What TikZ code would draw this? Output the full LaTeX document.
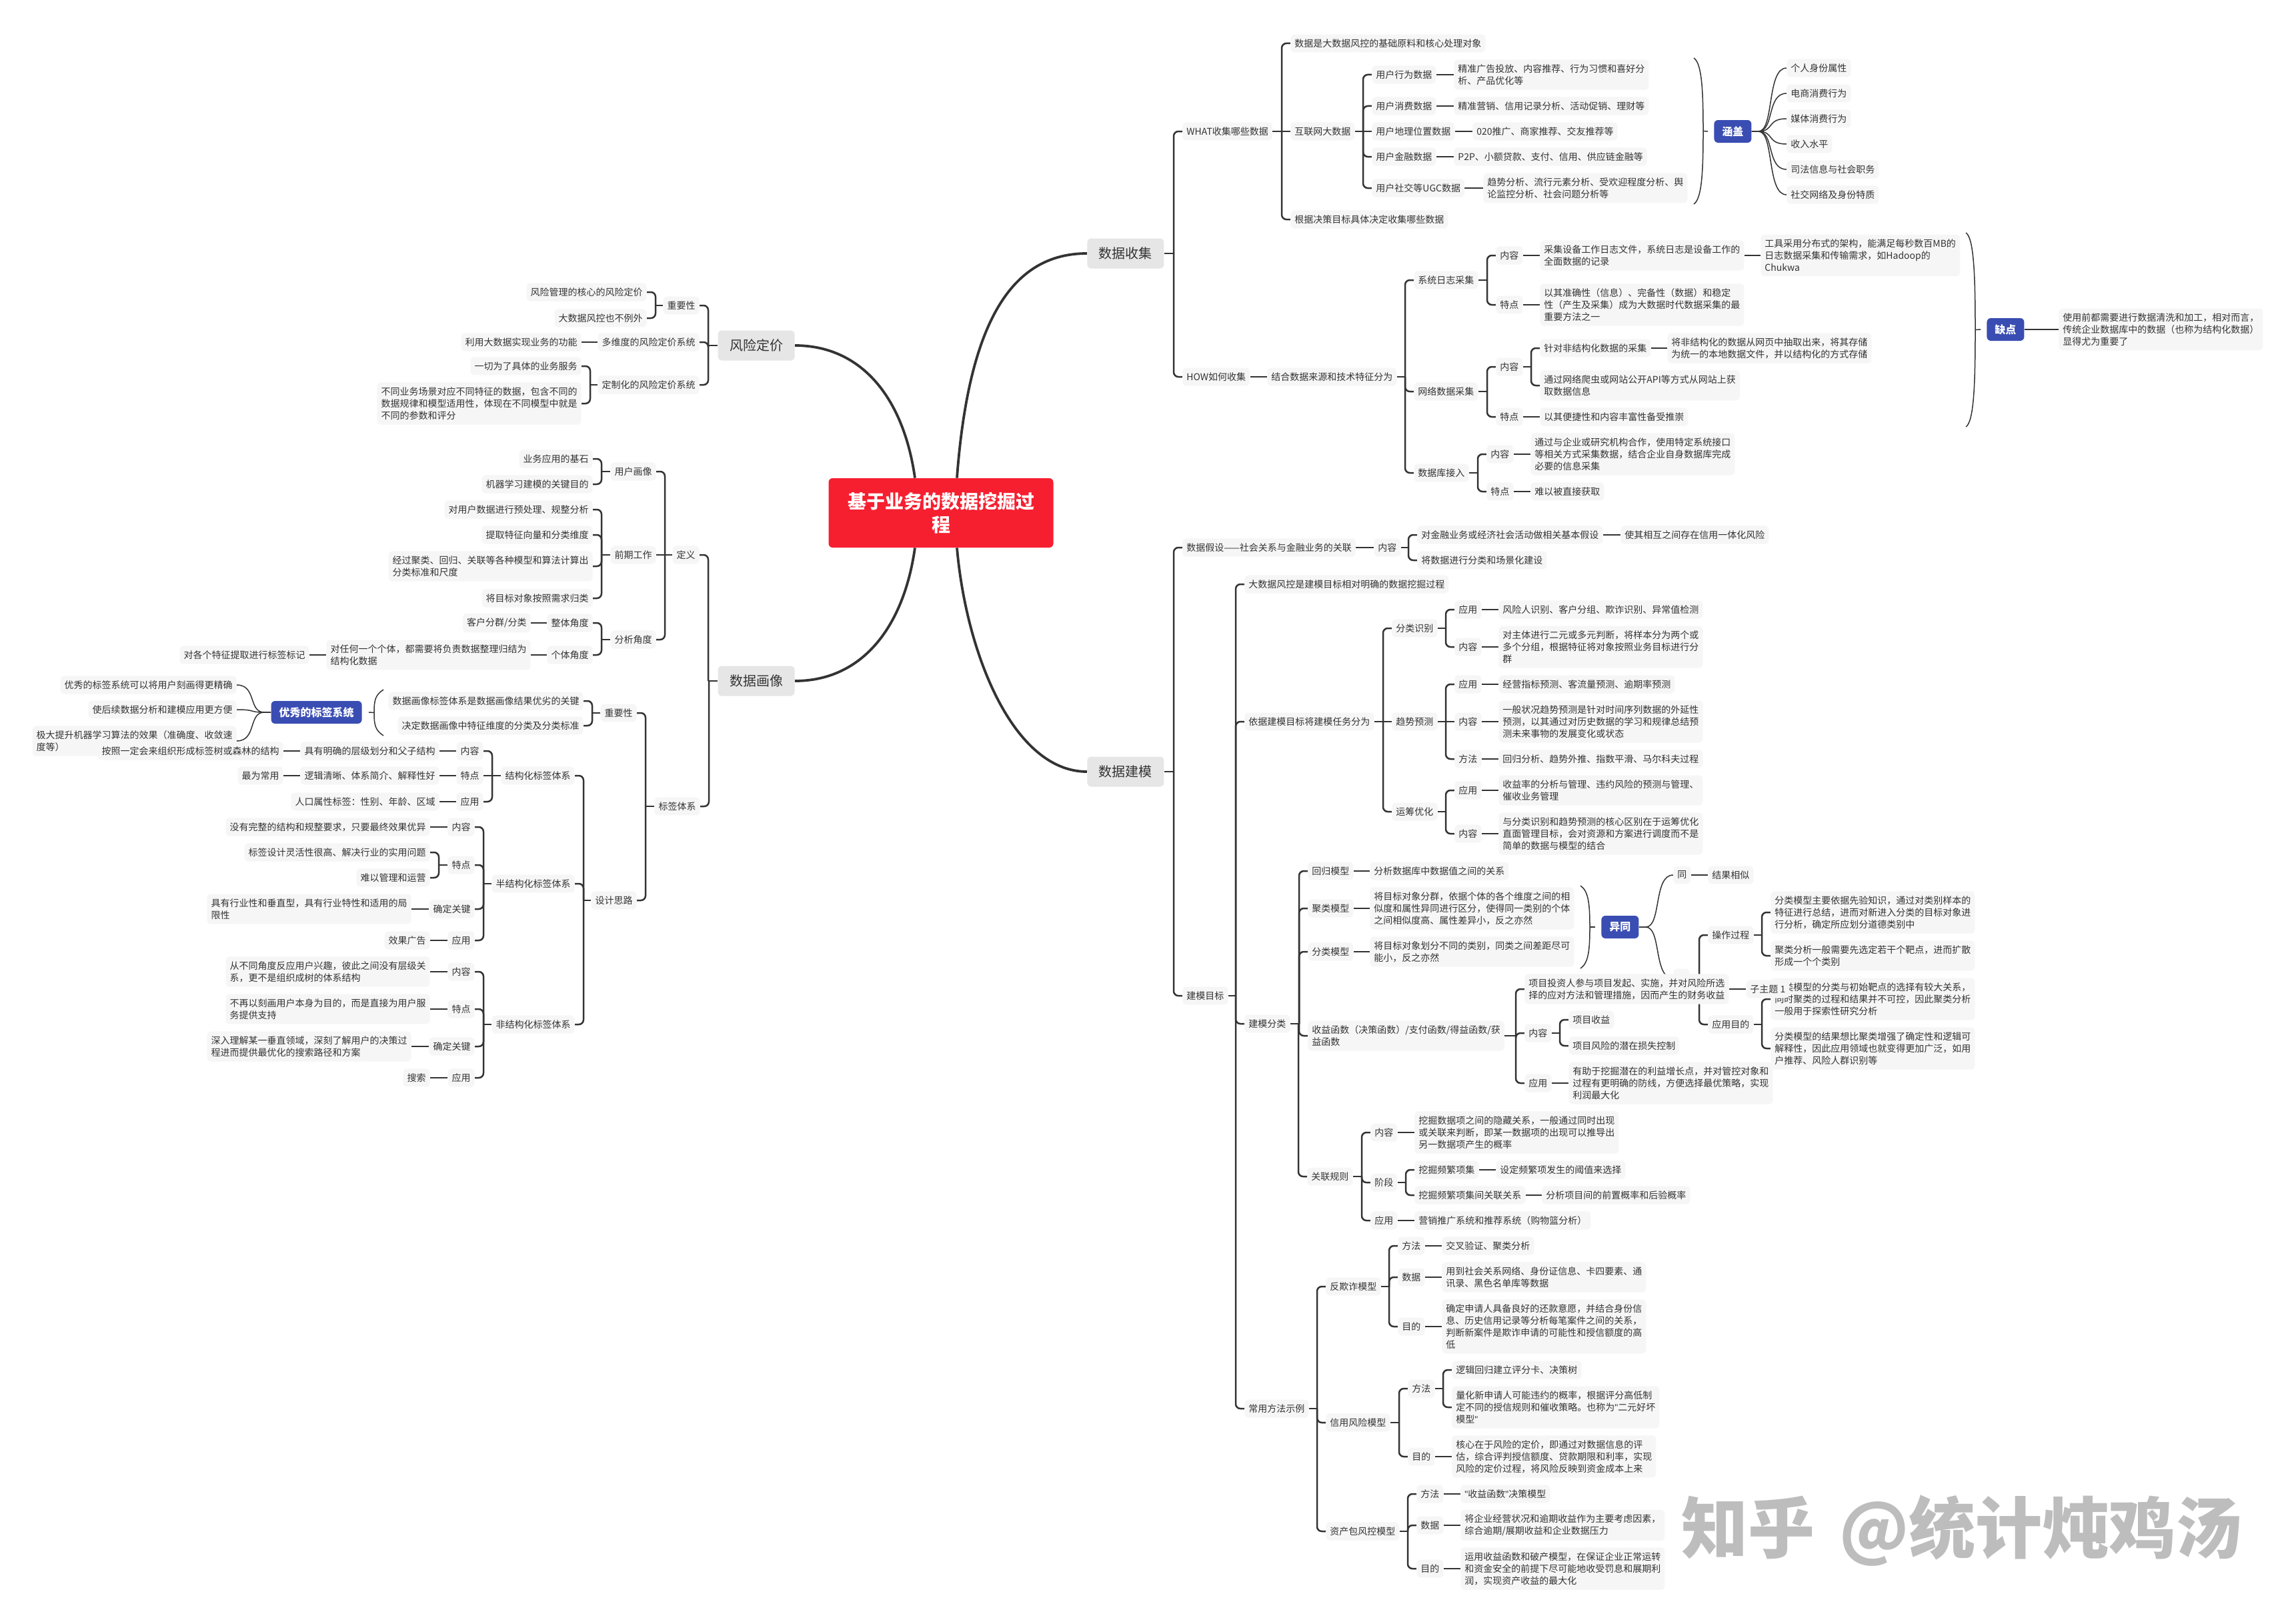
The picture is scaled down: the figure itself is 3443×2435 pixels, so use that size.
\documentclass[tikz,border=0pt]{standalone}
\usepackage{fontspec}
\setmainfont{Noto Sans CJK SC}
\newfontfamily\quotefont{Liberation Sans}
\usetikzlibrary{calc}
\definecolor{ink}{HTML}{333333}
\definecolor{boxfill}{HTML}{F6F6F6}
\definecolor{mainfill}{HTML}{E6E6E6}
\definecolor{tagblue}{HTML}{3A4DB3}
\definecolor{rootred}{HTML}{F61F30}
\definecolor{wmgray}{HTML}{BDBDBD}
\pgfdeclarelayer{paperlayer}
\pgfdeclarelayer{linklayer}
\pgfsetlayers{paperlayer,linklayer,main}
\tikzset{
  box/.style={fill=boxfill,rounded corners=3pt,text=ink,align=left,inner xsep=3pt,inner ysep=3.5pt,
    font=\fontsize{7pt}{9pt}\selectfont},
  mainbox/.style={fill=mainfill,inner xsep=8.75pt,inner ysep=0pt,minimum height=22.5pt,
    font=\fontsize{10pt}{12pt}\selectfont},
  tagbox/.style={fill=tagblue,text=white,inner xsep=6pt,inner ysep=0pt,minimum height=17pt,
    font=\fontsize{8pt}{10pt}\selectfont\bfseries},
  rootbox/.style={fill=rootred,text=white,rounded corners=3pt,align=center,minimum width=168.5pt,minimum height=52pt,
    inner sep=0pt,font=\fontsize{14pt}{17.5pt}\selectfont\bfseries},
  link/.style={draw=ink,line width=1.25pt},
  midlink/.style={draw=ink,line width=1pt},
  thinlink/.style={draw=ink,line width=0.75pt},
  mainlink/.style={draw=ink,line width=1.9pt},
}
\newcommand\nodeR[5][]{\node[box,anchor=west,#1] (#2) at (#3,#4) {#5};}
\newcommand\nodeL[5][]{\node[box,anchor=east,#1] (#2) at (#3,#4) {#5};}
% parent to children; a child level with its parent gets a plain straight line
\newcommand\linkR[2]{\foreach \kid in {#2}{%
  \pgfpointdiff{\pgfpointanchor{#1}{east}}{\pgfpointanchor{\kid}{west}}\pgfgetlastxy{\dxk}{\dyk}%
  \pgfmathparse{abs(\dyk)}%
  \ifdim\pgfmathresult pt<0.3pt
    \draw[link] (#1.east) -- (\kid.west);
  \else
    \path (\kid.west |- #1.east) ++(-13,0) coordinate (bend);
    \draw[link] (#1.east) -- (bend);
    \draw[link,rounded corners=3.5pt] (bend) |- (\kid.west);
  \fi}}
\newcommand\linkL[2]{\foreach \kid in {#2}{%
  \pgfpointdiff{\pgfpointanchor{#1}{west}}{\pgfpointanchor{\kid}{east}}\pgfgetlastxy{\dxk}{\dyk}%
  \pgfmathparse{abs(\dyk)}%
  \ifdim\pgfmathresult pt<0.3pt
    \draw[link] (#1.west) -- (\kid.east);
  \else
    \path (\kid.east |- #1.west) ++(13,0) coordinate (bend);
    \draw[link] (#1.west) -- (bend);
    \draw[link,rounded corners=3.5pt] (bend) |- (\kid.east);
  \fi}}
\newcommand\curveR[2]{\foreach \kid in {#2}{%
  \draw[thinlink] (#1.east) -- ++(10,0) .. controls +(24,0) and +(-30,0) .. (\kid.west);}}
\newcommand\curveL[2]{\foreach \kid in {#2}{%
  \draw[thinlink] (#1.west) -- ++(-10,0) .. controls +(-24,0) and +(30,0) .. (\kid.east);}}
% brace with its tips at x=#2 opening towards the left, tag on its right
\newcommand\braceR[4]{\pgfmathsetmacro\ymid{(#3+#4)/2}\pgfmathsetmacro\ya{#3+(#4-#3)*0.22}\pgfmathsetmacro\yb{#4-(#4-#3)*0.22}%
  \draw[thinlink] (#2,#3) .. controls ({#2+12},{#3+8}) and ({#2+14},\ya) .. ({#2+14},\ymid)
    .. controls ({#2+14},\yb) and ({#2+12},{#4-8}) .. (#2,#4);
  \draw[thinlink] ({#2+14},\ymid) -- ($(#1.west)+(-9,0)$);}
% brace with its tips at x=#2 opening towards the right, tag on its left
\newcommand\braceL[4]{\pgfmathsetmacro\ymid{(#3+#4)/2}\pgfmathsetmacro\ya{#3+(#4-#3)*0.22}\pgfmathsetmacro\yb{#4-(#4-#3)*0.22}%
  \draw[thinlink] (#2,#3) .. controls ({#2-12},{#3+8}) and ({#2-14},\ya) .. ({#2-14},\ymid)
    .. controls ({#2-14},\yb) and ({#2-12},{#4-8}) .. (#2,#4);
  \draw[thinlink] ({#2-14},\ymid) -- ($(#1.east)+(10,0)$);}
\begin{document}
\begin{tikzpicture}[x=0.5pt,y=-0.5pt]
\useasboundingbox (0,0) rectangle (3443,2435);
\begin{pgfonlayer}{paperlayer}
\fill[white] (0,0) rectangle (3443,2435);
\end{pgfonlayer}
% ---- root and main topics
\node[rootbox] (root) at (1411,769) {基于业务的数据挖掘过\\程};
\nodeR[mainbox]{c}{1630}{380}{数据收集}
\nodeR[mainbox]{m}{1630}{1157}{数据建模}
\nodeL[mainbox]{p}{1192}{518}{风险定价}
\nodeL[mainbox]{h}{1192}{1021}{数据画像}
% ---- 数据收集
\nodeR{a1}{1773}{197}{WHAT收集哪些数据}
\nodeR{a2}{1773}{565}{HOW如何收集}
\nodeR{a3}{1935}{65}{数据是大数据风控的基础原料和核心处理对象}
\nodeR{a4}{1935}{197}{互联网大数据}
\nodeR{a5}{1935}{329}{根据决策目标具体决定收集哪些数据}
\nodeR{b1}{2057}{112}{用户行为数据}
\nodeR{b2}{2057}{159}{用户消费数据}
\nodeR{b3}{2057}{197}{用户地理位置数据}
\nodeR{b4}{2057}{235}{用户金融数据}
\nodeR{b5}{2057}{282}{用户社交等UGC数据}
\nodeR{b1x}{2180}{112}{精准广告投放、内容推荐、行为习惯和喜好分\\析、产品优化等}
\nodeR{b2x}{2180}{159}{精准营销、信用记录分析、活动促销、理财等}
\nodeR{b3x}{2208}{197}{020推广、商家推荐、交友推荐等}
\nodeR{b4x}{2180}{235}{P2P、小额贷款、支付、信用、供应链金融等}
\nodeR{b5x}{2224}{282}{趋势分析、流行元素分析、受欢迎程度分析、舆\\论监控分析、社会问题分析等}
\nodeR[tagbox]{tagA}{2570}{197}{涵盖}
\nodeR{k1}{2679}{102}{个人身份属性}
\nodeR{k2}{2679}{140}{电商消费行为}
\nodeR{k3}{2679}{178}{媒体消费行为}
\nodeR{k4}{2679}{216}{收入水平}
\nodeR{k5}{2679}{254}{司法信息与社会职务}
\nodeR{k6}{2679}{292}{社交网络及身份特质}
\nodeR{d0}{1900}{565}{结合数据来源和技术特征分为}
\nodeR{d1}{2120}{420}{系统日志采集}
\nodeR{d2}{2120}{587}{网络数据采集}
\nodeR{d3}{2120}{709}{数据库接入}
\nodeR{d11}{2243}{383}{内容}
\nodeR{d12}{2243}{457}{特点}
\nodeR{d11x}{2309}{383}{采集设备工作日志文件，系统日志是设备工作的\\全面数据的记录}
\nodeR{d11y}{2640}{383}{工具采用分布式的架构，能满足每秒数百MB的\\日志数据采集和传输需求，如Hadoop的\\Chukwa}
\nodeR{d12x}{2309}{457}{以其准确性（信息）、完备性（数据）和稳定\\性（产生及采集）成为大数据时代数据采集的最\\重要方法之一}
\nodeR{d21}{2243}{550}{内容}
\nodeR{d22}{2243}{625}{特点}
\nodeR{d21a}{2309}{522}{针对非结构化数据的采集}
\nodeR{d21b}{2309}{578}{通过网络爬虫或网站公开API等方式从网站上获\\取数据信息}
\nodeR{d21y}{2500}{522}{将非结构化的数据从网页中抽取出来，将其存储\\为统一的本地数据文件，并以结构化的方式存储}
\nodeR{d22x}{2309}{625}{以其便捷性和内容丰富性备受推崇}
\nodeR{d31}{2229}{681}{内容}
\nodeR{d32}{2229}{737}{特点}
\nodeR{d31x}{2295}{681}{通过与企业或研究机构合作，使用特定系统接口\\等相关方式采集数据，结合企业自身数据库完成\\必要的信息采集}
\nodeR{d32x}{2295}{737}{难以被直接获取}
\nodeR[tagbox]{tagB}{2979}{494}{缺点}
\nodeR{tagBx}{3087}{494}{使用前都需要进行数据清洗和加工，相对而言，\\传统企业数据库中的数据（也称为结构化数据）\\显得尤为重要了}
% ---- 数据建模
\nodeR{e1}{1773}{821}{数据假设——社会关系与金融业务的关联}
\nodeR{e2}{1773}{1493}{建模目标}
\nodeR{e11}{2060}{821}{内容}
\nodeR{e11a}{2125}{802}{对金融业务或经济社会活动做相关基本假设}
\nodeR{e11y}{2430}{802}{使其相互之间存在信用一体化风险}
\nodeR{e11b}{2125}{840}{将数据进行分类和场景化建设}
\nodeR{f1}{1866}{876}{大数据风控是建模目标相对明确的数据挖掘过程}
\nodeR{f2}{1866}{1082}{依据建模目标将建模任务分为}
\nodeR{f3}{1866}{1535}{建模分类}
\nodeR{f4}{1866}{2112}{常用方法示例}
\nodeR{g1}{2087}{942}{分类识别}
\nodeR{g2}{2087}{1082}{趋势预测}
\nodeR{g3}{2087}{1217}{运筹优化}
\nodeR{g11}{2181}{914}{应用}
\nodeR{g12}{2181}{970}{内容}
\nodeR{g11x}{2247}{914}{风险人识别、客户分组、欺诈识别、异常值检测}
\nodeR{g12x}{2247}{970}{对主体进行二元或多元判断，将样本分为两个或\\多个分组，根据特征将对象按照业务目标进行分\\群}
\nodeR{g21}{2181}{1026}{应用}
\nodeR{g22}{2181}{1082}{内容}
\nodeR{g23}{2181}{1138}{方法}
\nodeR{g21x}{2247}{1026}{经营指标预测、客流量预测、逾期率预测}
\nodeR{g22x}{2247}{1082}{一般状况趋势预测是针对时间序列数据的外延性\\预测，以其通过对历史数据的学习和规律总结预\\测未来事物的发展变化或状态}
\nodeR{g23x}{2247}{1138}{回归分析、趋势外推、指数平滑、马尔科夫过程}
\nodeR{g31}{2181}{1185}{应用}
\nodeR{g32}{2181}{1250}{内容}
\nodeR{g31x}{2247}{1185}{收益率的分析与管理、违约风险的预测与管理、\\催收业务管理}
\nodeR{g32x}{2247}{1250}{与分类识别和趋势预测的核心区别在于运筹优化\\直面管理目标，会对资源和方案进行调度而不是\\简单的数据与模型的结合}
% 建模分类
\nodeR{q1}{1961}{1306}{回归模型}
\nodeR{q2}{1961}{1362}{聚类模型}
\nodeR{q3}{1961}{1427}{分类模型}
\nodeR{q4}{1961}{1553}{收益函数（决策函数）/支付函数/得益函数/获\\益函数}
\nodeR{q5}{1960}{1764}{关联规则}
\nodeR{q1x}{2054}{1306}{分析数据库中数据值之间的关系}
\nodeR{q2x}{2054}{1362}{将目标对象分群，依据个体的各个维度之间的相\\似度和属性异同进行区分，使得同一类别的个体\\之间相似度高、属性差异小，反之亦然}
\nodeR{q3x}{2054}{1427}{将目标对象划分不同的类别，同类之间差距尽可\\能小，反之亦然}
\nodeR[tagbox]{tagC}{2401}{1390}{异同}
\nodeR{s1}{2509}{1312}{同}
\nodeR{s1x}{2561}{1312}{结果相似}
\node[box,anchor=west,minimum width=12pt,minimum height=14.5pt] (s2) at (2509,1467) {};
\nodeR{s21}{2561}{1402}{操作过程}
\nodeR{s22}{2561}{1536}{应用目的}
\nodeR{s21a}{2655}{1368}{分类模型主要依据先验知识，通过对类别样本的\\特征进行总结，进而对新进入分类的目标对象进\\行分析，确定所应划分道德类别中}
\nodeR{s21b}{2655}{1433}{聚类分析一般需要先选定若干个靶点，进而扩散\\形成一个个类别}
\nodeR{s22a}{2655}{1498}{聚类模型的分类与初始靶点的选择有较大关系，\\同时聚类的过程和结果并不可控，因此聚类分析\\一般用于探索性研究分析}
\nodeR{s22b}{2655}{1572}{分类模型的结果想比聚类增强了确定性和逻辑可\\解释性，因此应用领域也就变得更加广泛，如用\\户推荐、风险人群识别等}
\nodeR{q41}{2286}{1483}{项目投资人参与项目发起、实施，并对风险所选\\择的应对方法和管理措施，因而产生的财务收益}
\nodeR{q41y}{2618}{1483}{子主题 1}
\nodeR{q42}{2286}{1549}{内容}
\nodeR{q43}{2286}{1624}{应用}
\nodeR{q42a}{2352}{1529}{项目收益}
\nodeR{q42b}{2352}{1568}{项目风险的潜在损失控制}
\nodeR{q43x}{2352}{1624}{有助于挖掘潜在的利益增长点，并对管控对象和\\过程有更明确的防线，方便选择最优策略，实现\\利润最大化}
\nodeR{q51}{2055}{1698}{内容}
\nodeR{q52}{2055}{1773}{阶段}
\nodeR{q53}{2055}{1830}{应用}
\nodeR{q51x}{2121}{1698}{挖掘数据项之间的隐藏关系，一般通过同时出现\\或关联来判断，即某一数据项的出现可以推导出\\另一数据项产生的概率}
\nodeR{q52a}{2121}{1754}{挖掘频繁项集}
\nodeR{q52b}{2121}{1792}{挖掘频繁项集间关联关系}
\nodeR{q52ay}{2243}{1754}{设定频繁项发生的阈值来选择}
\nodeR{q52by}{2312}{1792}{分析项目间的前置概率和后验概率}
\nodeR{q53x}{2121}{1830}{营销推广系统和推荐系统（购物篮分析）}
% 常用方法示例
\nodeR{t1}{1988}{1929}{反欺诈模型}
\nodeR{t2}{1988}{2133}{信用风险模型}
\nodeR{t3}{1988}{2296}{资产包风控模型}
\nodeR{t11}{2096}{1868}{方法}
\nodeR{t12}{2096}{1915}{数据}
\nodeR{t13}{2096}{1989}{目的}
\nodeR{t11x}{2162}{1868}{交叉验证、聚类分析}
\nodeR{t12x}{2162}{1915}{用到社会关系网络、身份证信息、卡四要素、通\\讯录、黑色名单库等数据}
\nodeR{t13x}{2162}{1989}{确定申请人具备良好的还款意愿，并结合身份信\\息、历史信用记录等分析每笔案件之间的关系，\\判断新案件是欺诈申请的可能性和授信额度的高\\低}
\nodeR{t21}{2111}{2082}{方法}
\nodeR{t22}{2111}{2184}{目的}
\nodeR{t21a}{2177}{2054}{逻辑回归建立评分卡、决策树}
\nodeR{t21b}{2177}{2110}{量化新申请人可能违约的概率，根据评分高低制\\定不同的授信规则和催收策略。也称为{\quotefont"}二元好坏\\模型{\quotefont"}}
\nodeR{t22x}{2177}{2184}{核心在于风险的定价，即通过对数据信息的评\\估，综合评判授信额度、贷款期限和利率，实现\\风险的定价过程，将风险反映到资金成本上来}
\nodeR{t31}{2124}{2240}{方法}
\nodeR{t32}{2124}{2287}{数据}
\nodeR{t33}{2124}{2352}{目的}
\nodeR{t31x}{2190}{2240}{{\quotefont"}收益函数{\quotefont"}决策模型}
\nodeR{t32x}{2190}{2287}{将企业经营状况和逾期收益作为主要考虑因素，\\综合逾期/展期收益和企业数据压力}
\nodeR{t33x}{2190}{2352}{运用收益函数和破产模型，在保证企业正常运转\\和资金安全的前提下尽可能地收受罚息和展期利\\润，实现资产收益的最大化}
% ---- 风险定价
\nodeL{u1}{1049}{458}{重要性}
\nodeL{u2}{1049}{513}{多维度的风险定价系统}
\nodeL{u3}{1049}{577}{定制化的风险定价系统}
\nodeL{u11}{970}{438}{风险管理的核心的风险定价}
\nodeL{u12}{970}{477}{大数据风控也不例外}
\nodeL{u21}{872}{513}{利用大数据实现业务的功能}
\nodeL{u31}{872}{549}{一切为了具体的业务服务}
\nodeL{u32}{872}{605}{不同业务场景对应不同特征的数据，包含不同的\\数据规律和模型适用性，体现在不同模型中就是\\不同的参数和评分}
% ---- 数据画像
\nodeL{v1}{1049}{832}{定义}
\nodeL{v2}{1050}{1209}{标签体系}
\nodeL{v11}{984}{707}{用户画像}
\nodeL{v12}{984}{832}{前期工作}
\nodeL{v13}{984}{959}{分析角度}
\nodeL{v111}{889}{688}{业务应用的基石}
\nodeL{v112}{889}{726}{机器学习建模的关键目的}
\nodeL{v121}{889}{764}{对用户数据进行预处理、规整分析}
\nodeL{v122}{889}{802}{提取特征向量和分类维度}
\nodeL{v123}{889}{849}{经过聚类、回归、关联等各种模型和算法计算出\\分类标准和尺度}
\nodeL{v124}{889}{897}{将目标对象按照需求归类}
\nodeL{v131}{889}{934}{整体角度}
\nodeL{v132}{889}{982}{个体角度}
\nodeL{v131x}{796}{934}{客户分群/分类}
\nodeL{v132x}{796}{982}{对任何一个个体，都需要将负责数据整理归结为\\结构化数据}
\nodeL{v132y}{464}{982}{对各个特征提取进行标签标记}
\nodeL{w1}{955}{1069}{重要性}
\nodeL{w2}{955}{1350}{设计思路}
\nodeL{w11}{875}{1051}{数据画像标签体系是数据画像结果优劣的关键}
\nodeL{w12}{875}{1088}{决定数据画像中特征维度的分类及分类标准}
\nodeL[tagbox]{tagD}{543}{1068}{优秀的标签系统}
\nodeL{x1}{355}{1027}{优秀的标签系统可以将用户刻画得更精确}
\nodeL{x2}{355}{1064}{使后续数据分析和建模应用更方便}
\nodeL{x3}{355}{1111}{极大提升机器学习算法的效果（准确度、收敛速\\度等）}
\nodeL{y1}{862}{1163}{结构化标签体系}
\nodeL{y2}{862}{1325}{半结构化标签体系}
\nodeL{y3}{862}{1536}{非结构化标签体系}
\nodeL{y11}{725}{1126}{内容}
\nodeL{y12}{725}{1163}{特点}
\nodeL{y13}{725}{1202}{应用}
\nodeL{y11x}{659}{1126}{具有明确的层级划分和父子结构}
\nodeL{y12x}{659}{1163}{逻辑清晰、体系简介、解释性好}
\nodeL{y13x}{659}{1202}{人口属性标签：性别、年龄、区域}
\nodeL{y11y}{425}{1126}{按照一定会来组织形成标签树或森林的结构}
\nodeL{y12y}{425}{1163}{最为常用}
\nodeL{y21}{712}{1240}{内容}
\nodeL{y22}{712}{1297}{特点}
\nodeL{y23}{712}{1363}{确定关键}
\nodeL{y24}{712}{1410}{应用}
\nodeL{y21x}{645}{1240}{没有完整的结构和规整要求，只要最终效果优异}
\nodeL{y22a}{645}{1278}{标签设计灵活性很高、解决行业的实用问题}
\nodeL{y22b}{645}{1316}{难以管理和运营}
\nodeL{y23x}{617}{1363}{具有行业性和垂直型，具有行业特性和适用的局\\限性}
\nodeL{y24x}{645}{1410}{效果广告}
\nodeL{y31}{712}{1457}{内容}
\nodeL{y32}{712}{1513}{特点}
\nodeL{y33}{712}{1569}{确定关键}
\nodeL{y34}{712}{1616}{应用}
\nodeL{y31x}{645}{1457}{从不同角度反应用户兴趣，彼此之间没有层级关\\系，更不是组织成树的体系结构}
\nodeL{y32x}{645}{1513}{不再以刻画用户本身为目的，而是直接为用户服\\务提供支持}
\nodeL{y33x}{617}{1569}{深入理解某一垂直领域，深刻了解用户的决策过\\程进而提供最优化的搜索路径和方案}
\nodeL{y34x}{645}{1616}{搜索}
% ---- watermark
\node[anchor=west,inner sep=0pt,text=wmgray,font=\fontsize{50pt}{60pt}\selectfont\bfseries] (wm) at (2521,2295) {知乎\hspace{7pt} @统计炖鸡汤};
% ---- connectors
\begin{pgfonlayer}{linklayer}
\coordinate (rtl) at ($(root.north)+(-39,0)$);
\coordinate (rtr) at ($(root.north)+(24,0)$);
\coordinate (rbl) at ($(root.south)+(-39,0)$);
\coordinate (rbr) at ($(root.south)+(24,0)$);
\draw[mainlink] (rtr) .. controls +(18,-240) and +(-110,0) .. (c.west);
\draw[mainlink] (rbr) .. controls +(14,160) and +(-110,0) .. (m.west);
\draw[mainlink] (rtl) .. controls +(-17,-120) and +(100,0) .. (p.east);
\draw[mainlink] (rbl) .. controls +(-17,120) and +(100,0) .. (h.east);
\linkR{c}{a1,a2}
\linkR{a1}{a3,a4,a5}
\linkR{a4}{b1,b2,b3,b4,b5}
\linkR{b1}{b1x}\linkR{b2}{b2x}\linkR{b3}{b3x}\linkR{b4}{b4x}\linkR{b5}{b5x}
\braceR{tagA}{2540}{87}{306}
\curveR{tagA}{k1,k2,k3,k4,k5,k6}
\linkR{a2}{d0}
\linkR{d0}{d1,d2,d3}
\linkR{d1}{d11,d12}\linkR{d11}{d11x}\linkR{d11x}{d11y}\linkR{d12}{d12x}
\linkR{d2}{d21,d22}\linkR{d21}{d21a,d21b}\linkR{d21a}{d21y}\linkR{d22}{d22x}
\linkR{d3}{d31,d32}\linkR{d31}{d31x}\linkR{d32}{d32x}
\braceR{tagB}{2948}{349}{640}
\draw[midlink] (tagB.east) -- (tagBx.west);
\linkR{m}{e1,e2}
\linkR{e1}{e11}\linkR{e11}{e11a,e11b}\linkR{e11a}{e11y}
\linkR{e2}{f1,f2,f3,f4}
\linkR{f2}{g1,g2,g3}
\linkR{g1}{g11,g12}\linkR{g11}{g11x}\linkR{g12}{g12x}
\linkR{g2}{g21,g22,g23}\linkR{g21}{g21x}\linkR{g22}{g22x}\linkR{g23}{g23x}
\linkR{g3}{g31,g32}\linkR{g31}{g31x}\linkR{g32}{g32x}
\linkR{f3}{q1,q2,q3,q4,q5}
\linkR{q1}{q1x}\linkR{q2}{q2x}\linkR{q3}{q3x}
\braceR{tagC}{2370}{1328}{1452}
\curveR{tagC}{s1,s2}
\linkR{s1}{s1x}
\linkR{s2}{s21,s22}
\linkR{s21}{s21a,s21b}
\linkR{s22}{s22a,s22b}
\linkR{q4}{q41,q42,q43}
\linkR{q41}{q41y}
\linkR{q42}{q42a,q42b}
\linkR{q43}{q43x}
\linkR{q5}{q51,q52,q53}
\linkR{q51}{q51x}\linkR{q52}{q52a,q52b}\linkR{q52a}{q52ay}\linkR{q52b}{q52by}\linkR{q53}{q53x}
\linkR{f4}{t1,t2,t3}
\linkR{t1}{t11,t12,t13}\linkR{t11}{t11x}\linkR{t12}{t12x}\linkR{t13}{t13x}
\linkR{t2}{t21,t22}\linkR{t21}{t21a,t21b}\linkR{t22}{t22x}
\linkR{t3}{t31,t32,t33}\linkR{t31}{t31x}\linkR{t32}{t32x}\linkR{t33}{t33x}
\linkL{p}{u1,u2,u3}
\linkL{u1}{u11,u12}\linkL{u2}{u21}\linkL{u3}{u31,u32}
\linkL{h}{v1,v2}
\linkL{v1}{v11,v12,v13}
\linkL{v11}{v111,v112}
\linkL{v12}{v121,v122,v123,v124}
\linkL{v13}{v131,v132}
\linkL{v131}{v131x}\linkL{v132}{v132x}\linkL{v132x}{v132y}
\linkL{v2}{w1,w2}
\linkL{w1}{w11,w12}
\braceL{tagD}{575}{1034}{1103}
\curveL{tagD}{x1,x2,x3}
\linkL{w2}{y1,y2,y3}
\linkL{y1}{y11,y12,y13}
\linkL{y11}{y11x}\linkL{y12}{y12x}\linkL{y13}{y13x}
\linkL{y11x}{y11y}\linkL{y12x}{y12y}
\linkL{y2}{y21,y22,y23,y24}
\linkL{y21}{y21x}\linkL{y22}{y22a,y22b}\linkL{y23}{y23x}\linkL{y24}{y24x}
\linkL{y3}{y31,y32,y33,y34}
\linkL{y31}{y31x}\linkL{y32}{y32x}\linkL{y33}{y33x}\linkL{y34}{y34x}
\end{pgfonlayer}
\end{tikzpicture}
\end{document}
